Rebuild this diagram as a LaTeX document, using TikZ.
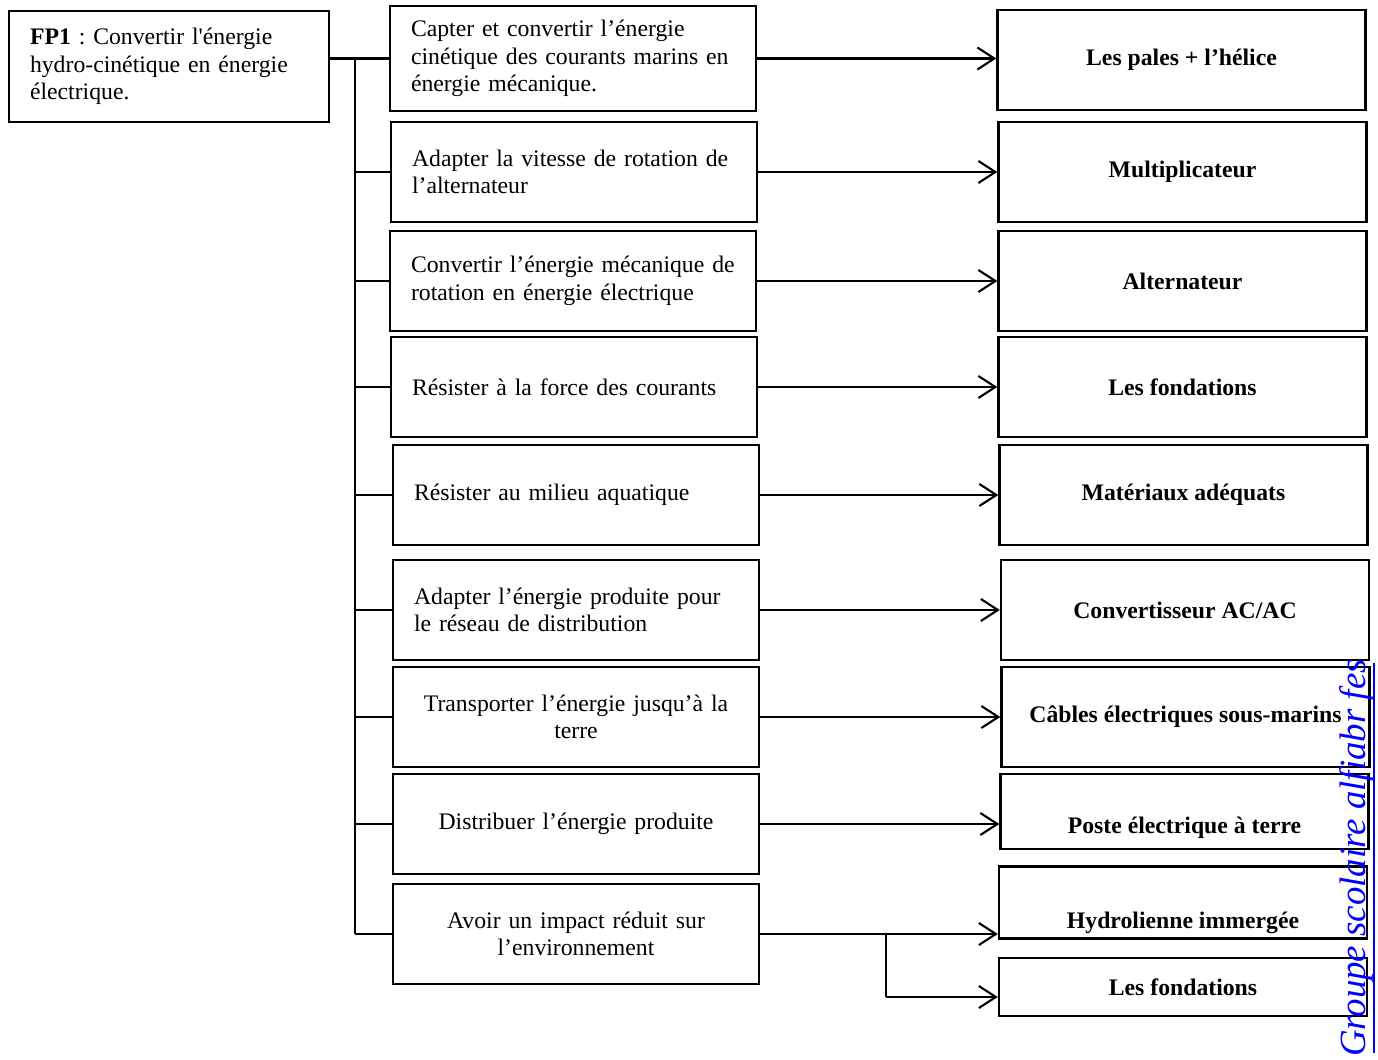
\documentclass[tikz,border=0pt]{standalone}
\usepackage{fontspec}
\setmainfont{Liberation Serif}
\usetikzlibrary{arrows.meta}
\frenchspacing

\begin{document}
\begin{tikzpicture}[x=0.02cm, y=-0.02cm, line width=1.2pt,
    font=\fontsize{13.5}{15.6}\selectfont]
\tikzset{fonc/.style={draw, line width=1.4pt, minimum width=7.32cm, minimum height=2cm,
    text width=6.48cm, inner xsep=0.42cm, align=left},
  solu/.style={draw, line width=1.4pt, minimum width=7.36cm, minimum height=2cm,
    align=center, font=\fontsize{13.5}{15.6}\selectfont\bfseries},
  fleche/.style={-{Straight Barb[length=0.34cm,width=0.44cm]}}}
\useasboundingbox (0,0) rectangle (1378,1060);

% fonction principale
\node[fonc, minimum width=6.4cm, minimum height=2.22cm, text width=5.56cm] (fp) at (169,66.5)
    {\textbf{FP1} : Convertir l\textquotesingle énergie\\hydro-cinétique en énergie\\électrique.};

% fonctions techniques
\node[fonc, minimum height=2.1cm] (m1) at (573,58.5)
    {Capter et convertir l’énergie\\cinétique des courants marins en\\énergie mécanique.};
\node[fonc] (m2) at (574,172) {Adapter la vitesse de rotation de\\l’alternateur};
\node[fonc] (m3) at (573,281) {Convertir l’énergie mécanique de\\rotation en énergie électrique};
\node[fonc] (m4) at (574,387) {Résister à la force des courants};
\node[fonc] (m5) at (576,495) {Résister au milieu aquatique};
\node[fonc] (m6) at (576,610) {Adapter l’énergie produite pour\\le réseau de distribution};
\node[fonc, align=center] (m7) at (576,717) {Transporter l’énergie jusqu’à la\\terre};
\node[fonc, align=center] (m8) at (576,824) {Distribuer l’énergie produite};
\node[fonc, align=center] (m9) at (576,934) {Avoir un impact réduit sur\\l’environnement};

% solutions techniques
\node[solu] (r1) at (1181.5,60) {\raisebox{-0.06cm}{Les pales + l’hélice}};
\node[solu] (r2) at (1182.5,172) {Multiplicateur};
\node[solu] (r3) at (1182.5,281) {Alternateur};
\node[solu] (r4) at (1182.5,387) {Les fondations};
\node[solu] (r5) at (1183.5,495) {Matériaux adéquats};
\node[solu] (r6) at (1185,610) {Convertisseur AC/AC};
\node[solu] (r7) at (1185.5,717) {Câbles électriques sous-marins};
\node[solu, minimum height=1.5cm] (r8) at (1184.5,811.5)
    {\raisebox{-0.43cm}[0pt][0pt]{Poste électrique à terre}};
\node[solu, minimum height=1.44cm] (r9) at (1183,902.5)
    {\raisebox{-0.51cm}[0pt][0pt]{Hydrolienne immergée}};
\node[solu, minimum height=1.16cm] (r10) at (1183,987) {Les fondations};

% arborescence
\coordinate (tr) at (355,58.5);
\coordinate (br) at (886,997);
\draw (fp.east |- m1.west) -- (m1.west);
\draw (tr) -- (tr |- m9.west);
\foreach \i in {2,...,9}
  \draw (tr |- m\i.west) -- (m\i.west);
\foreach \i in {1,...,9}
  \draw[fleche] (m\i.east) -- (m\i.east -| r\i.west);
\draw (m9.east -| br) -- (br);
\draw[fleche] (br) -- (br -| r10.west);

% filigrane
\node[rotate=90, text=blue, inner sep=0pt, font=\fontsize{21}{21}\selectfont\itshape] (wm) at (1356,858)
    {Groupe scolaire alfiabr fes};
\draw[blue, line width=1pt] ([yshift=0.1cm]wm.south west) -- ([yshift=-0.1cm]wm.south east);

\end{tikzpicture}
\end{document}
